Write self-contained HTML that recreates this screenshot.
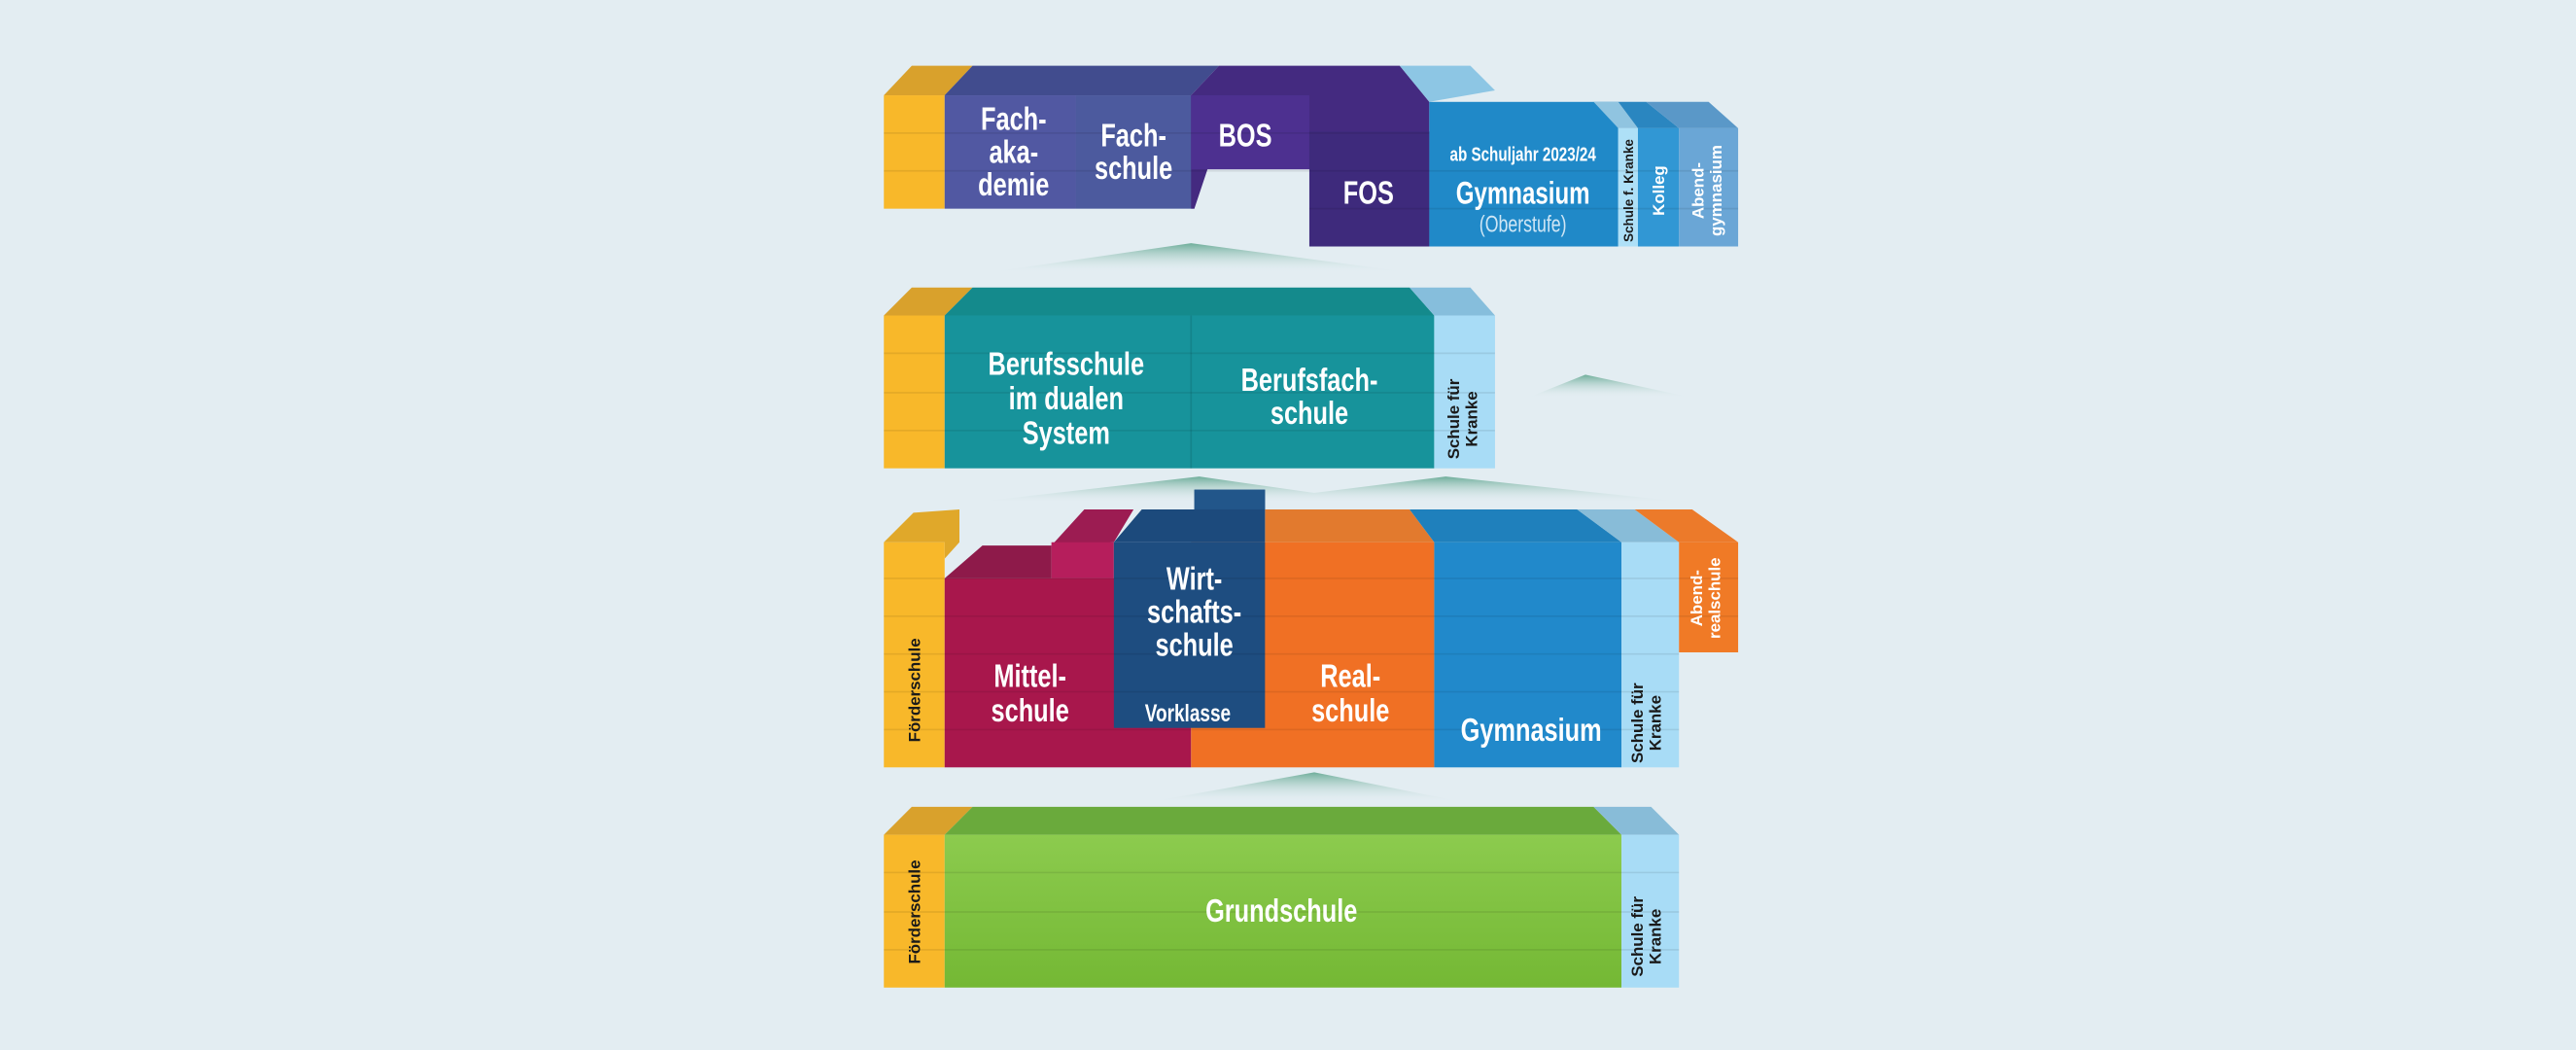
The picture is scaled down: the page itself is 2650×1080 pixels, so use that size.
<!DOCTYPE html>
<html><head><meta charset="utf-8"><style>
html,body{margin:0;padding:0;background:#e3edf2;}
svg{display:block;}
text{font-family:"Liberation Sans",sans-serif;font-weight:bold;fill:#fff;text-anchor:middle;}
.v{font-family:"Liberation Sans",sans-serif;font-size:10px;fill:#1a1a1a;}
.vw{font-family:"Liberation Sans",sans-serif;font-size:10px;fill:#fff;}
.L{font-size:20px;}
</style></head><body>
<svg width="2650" height="1080" viewBox="0 0 1568 639" preserveAspectRatio="none" xmlns="http://www.w3.org/2000/svg">
<defs>
<linearGradient id="m" x1="0" y1="0" x2="0" y2="1"><stop offset="0" stop-color="#6fae9a"/><stop offset="1" stop-color="#e3edf2" stop-opacity="0"/></linearGradient>
<linearGradient id="g" x1="0" y1="0" x2="0" y2="1"><stop offset="0" stop-color="#8ccb4e"/><stop offset="1" stop-color="#74b834"/></linearGradient>
</defs>
<rect width="1568" height="639" fill="#e3edf2"/>
<polygon points="600,166 725,148 860,166" fill="url(#m)"/>
<polygon points="930,242 965,228 1030,242" fill="url(#m)"/>
<polygon points="590,306 730,290 800,300 880,290 1030,306" fill="url(#m)"/>
<polygon points="700,488 800,470 890,488" fill="url(#m)"/>

<!-- TOP SECTION -->
<polygon points="538,58 555,40 592,40 575,58" fill="#d9a12c"/>
<rect x="538" y="58" width="37" height="69" fill="#f8b82a"/>
<polygon points="575,58 592,40 742,40 725,58" fill="#414c8e"/>
<rect x="575" y="58" width="80" height="69" fill="#5158a2"/>
<rect x="655" y="58" width="72" height="69" fill="#4c5a9e"/>
<polygon points="725,58 742,40 852,40 870,62 870,150 797,150 797,103 735,103 727,127 725,127" fill="#442a80"/>
<rect x="725" y="58" width="72" height="45" fill="#4d3090"/>
<rect x="797" y="80" width="73" height="70" fill="#3e2a7c"/>
<polygon points="852,40 895,40 910,55 870,62" fill="#8dc6e4"/>
<rect x="870" y="62" width="115" height="88" fill="#2089c8"/>
<polygon points="970,62 985,62 997,78 985,78" fill="#90c4e0"/>
<rect x="985" y="78" width="12" height="72" fill="#aee0f7"/>
<polygon points="985,62 1002,62 1022,78 997,78" fill="#2a86c0"/>
<rect x="997" y="78" width="25" height="72" fill="#3197d4"/>
<polygon points="1002,62 1040,62 1058,78 1022,78" fill="#5a98c8"/>
<rect x="1022" y="78" width="36" height="72" fill="#6aa6d6"/>
<g stroke="#000" stroke-opacity=".08" stroke-width="1">
<line x1="538" y1="81" x2="870" y2="81"/><line x1="538" y1="104" x2="1058" y2="104"/><line x1="797" y1="127" x2="1058" y2="127"/>
</g>
<text class="v" style="font-size:8px" transform="translate(994,116) rotate(-90)">Schule f. Kranke</text>
<text class="vw" transform="translate(1013,116) rotate(-90)">Kolleg</text>
<text class="vw" transform="translate(1037,116) rotate(-90)">Abend-</text>
<text class="vw" transform="translate(1048,116) rotate(-90)">gymnasium</text>

<!-- SECTION 2 -->
<polygon points="538,192 555,175 592,175 575,192" fill="#d9a12c"/>
<rect x="538" y="192" width="37" height="93" fill="#f8b82a"/>
<polygon points="575,192 592,175 858,175 873,192" fill="#148a8c"/>
<rect x="575" y="192" width="298" height="93" fill="#17939b"/>
<line x1="725" y1="192" x2="725" y2="285" stroke="#000" stroke-opacity=".1"/>
<polygon points="858,175 895,175 910,192 873,192" fill="#86bedc"/>
<rect x="873" y="192" width="37" height="93" fill="#a8dcf6"/>
<g stroke="#000" stroke-opacity=".08"><line x1="538" y1="215" x2="910" y2="215"/><line x1="538" y1="239" x2="910" y2="239"/><line x1="538" y1="262" x2="910" y2="262"/></g>
<text class="v" transform="translate(888,255) rotate(-90)">Schule für</text>
<text class="v" transform="translate(899,255) rotate(-90)">Kranke</text>

<!-- SECTION 3 -->
<polygon points="538,330 556,312 584,310 584,330 575,340 575,330" fill="#e0a82a"/>
<rect x="538" y="330" width="37" height="137" fill="#f8b82a"/>
<polygon points="575,352 598,332 640,332 640,352" fill="#8e1a4a"/>
<polygon points="640,332 660,310 690,310 678,330" fill="#9c1c52"/>
<rect x="640" y="330" width="38" height="22" fill="#b61e5c"/>
<rect x="575" y="352" width="150" height="115" fill="#a8174c"/>
<polygon points="770,330 770,310 858,310 873,330" fill="#e27a2e"/>
<rect x="725" y="330" width="148" height="137" fill="#f07024"/>
<polygon points="678,330 695,310 727,310 727,298 770,298 770,330" fill="#1c4a7c"/>
<rect x="727" y="298" width="43" height="12" fill="#22568a"/>
<rect x="678" y="330" width="92" height="113" fill="#1e4d80"/>
<polygon points="858,310 960,310 987,330 873,330" fill="#1f80bc"/>
<rect x="873" y="330" width="114" height="137" fill="#2189cb"/>
<polygon points="960,310 995,310 1022,330 987,330" fill="#88bcd8"/>
<rect x="987" y="330" width="35" height="137" fill="#a8dcf6"/>
<polygon points="995,310 1030,310 1058,330 1022,330" fill="#ec7a2a"/>
<rect x="1022" y="330" width="36" height="67" fill="#f07a26"/>
<g stroke="#000" stroke-opacity=".08"><line x1="538" y1="352" x2="1058" y2="352"/><line x1="538" y1="375" x2="1058" y2="375"/><line x1="538" y1="398" x2="1022" y2="398"/><line x1="538" y1="421" x2="1022" y2="421"/><line x1="538" y1="444" x2="1022" y2="444"/></g>
<text class="v" transform="translate(560,420) rotate(-90)">Förderschule</text>
<text class="v" transform="translate(1000,440) rotate(-90)">Schule für</text>
<text class="v" transform="translate(1011,440) rotate(-90)">Kranke</text>
<text class="vw" transform="translate(1036,364) rotate(-90)">Abend-</text>
<text class="vw" transform="translate(1047,364) rotate(-90)">realschule</text>

<!-- SECTION 4 -->
<polygon points="538,508 555,491 592,491 575,508" fill="#d9a12c"/>
<rect x="538" y="508" width="37" height="93" fill="#f8b82a"/>
<polygon points="575,508 592,491 970,491 987,508" fill="#6aaa3c"/>
<rect x="575" y="508" width="412" height="93" fill="url(#g)"/>
<polygon points="970,491 1005,491 1022,508 987,508" fill="#88bcd8"/>
<rect x="987" y="508" width="35" height="93" fill="#a8dcf6"/>
<g stroke="#000" stroke-opacity=".08"><line x1="538" y1="531" x2="1022" y2="531"/><line x1="538" y1="555" x2="1022" y2="555"/><line x1="538" y1="578" x2="1022" y2="578"/></g>
<text class="v" transform="translate(560,555) rotate(-90)">Förderschule</text>
<text class="v" transform="translate(1000,570) rotate(-90)">Schule für</text>
<text class="v" transform="translate(1011,570) rotate(-90)">Kranke</text>

<!-- condensed labels -->
<g transform="scale(0.75 1)">
<text class="L" x="822.7" y="79">Fach-</text><text class="L" x="822.7" y="99">aka-</text><text class="L" x="822.7" y="119">demie</text>
<text class="L" x="920" y="89">Fach-</text><text class="L" x="920" y="109">schule</text>
<text class="L" x="1010.7" y="89">BOS</text>
<text class="L" x="1110.7" y="124">FOS</text>
<text x="1236" y="98" style="font-size:12px">ab Schuljahr 2023/24</text>
<text x="1236" y="124" style="font-size:19px">Gymnasium</text>
<text x="1236" y="141" style="font-size:14px;font-weight:normal;fill:#cfe6f5">(Oberstufe)</text>
<text class="L" x="865.3" y="228">Berufsschule</text><text class="L" x="865.3" y="249">im dualen</text><text class="L" x="865.3" y="270">System</text>
<text class="L" x="1062.7" y="238">Berufsfach-</text><text class="L" x="1062.7" y="258">schule</text>
<text class="L" x="836" y="418">Mittel-</text><text class="L" x="836" y="439">schule</text>
<text class="L" x="969.3" y="359">Wirt-</text><text class="L" x="969.3" y="379">schafts-</text><text class="L" x="969.3" y="399">schule</text>
<text x="964" y="439" style="font-size:15px">Vorklasse</text>
<text class="L" x="1096" y="418">Real-</text><text class="L" x="1096" y="439">schule</text>
<text class="L" x="1242.7" y="451">Gymnasium</text>
<text class="L" x="1040" y="561">Grundschule</text>
</g>
</svg>
</body></html>
